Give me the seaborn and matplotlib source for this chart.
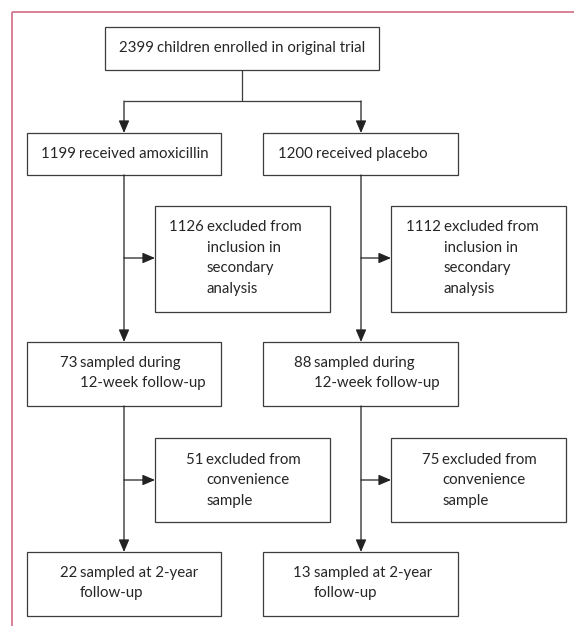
import matplotlib
matplotlib.use("Agg")
import matplotlib.pyplot as plt
import seaborn as sns
from matplotlib.patches import Rectangle

sns.set_theme(style="white")
plt.rcParams['font.family'] = ['Lato', 'DejaVu Sans']

# flowchart content
counts = [2399, 1199, 1200, 1126, 1112, 73, 88, 51, 75, 22, 13]
phrases = [
    ["children enrolled in original trial"],
    ["received amoxicillin"],
    ["received placebo"],
    ["excluded from", "inclusion in", "secondary", "analysis"],
    ["excluded from", "inclusion in", "secondary", "analysis"],
    ["sampled during", "12-week follow-up"],
    ["sampled during", "12-week follow-up"],
    ["excluded from", "convenience", "sample"],
    ["excluded from", "convenience", "sample"],
    ["sampled at 2-year", "follow-up"],
    ["sampled at 2-year", "follow-up"],
]

# layout in pixels: box (x0, y0, x1, y1), text start x, first line y
boxes = [
    (105, 27, 379, 70, 119, 48),
    (27, 133, 221, 175, 41, 154),
    (263, 133, 458, 175, 278, 154),
    (155, 206, 330, 312, 169, 227),
    (391, 206, 566, 312, 406, 227),
    (27, 342, 221, 406, 60, 363),
    (263, 342, 458, 406, 294, 363),
    (155, 438, 330, 522, 186, 460),
    (391, 438, 566, 522, 422, 460),
    (27, 552, 221, 616, 60, 573),
    (263, 552, 458, 616, 293, 573),
]
line_step = 20.5

W, H = 574, 626
fig = plt.figure(figsize=(W / 100, H / 100), dpi=100)
ax = fig.add_axes([0, 0, 1, 1])
ax.set_xlim(0, W)
ax.set_ylim(H, 0)
ax.axis("off")

pink = "#d4768f"
ax.plot([12, W], [12, 12], color=pink, lw=1.3, solid_capstyle="butt")
ax.plot([12, 12], [12, H], color=pink, lw=1.3, solid_capstyle="butt")

edge = "#3c3c3c"
txt = "#262626"
fs = 10.8

fig.canvas.draw()
renderer = fig.canvas.get_renderer()
inv = ax.transData.inverted()

for n, words, (x0, y0, x1, y1, tx, ty) in zip(counts, phrases, boxes):
    ax.add_patch(Rectangle((x0, y0), x1 - x0, y1 - y0, fill=False,
                           ec=edge, lw=0.9))
    t = ax.text(tx, ty, f"{n} ", fontsize=fs, color=txt, va="center", ha="left")
    bb = t.get_window_extent(renderer)
    xr = inv.transform((bb.x1, bb.y0))[0] - 1
    for i, w in enumerate(words):
        ax.text(xr, ty + i * line_step, w, fontsize=fs, color=txt,
                va="center", ha="left")

lc = "#3c3c3c"
lw = 0.9


def seg(x0, y0, x1, y1):
    ax.plot([x0, x1], [y0, y1], color=lc, lw=lw, solid_capstyle="butt")


def arrow(x0, y0, x1, y1):
    ax.annotate("", xy=(x1, y1), xytext=(x0, y0),
                arrowprops=dict(arrowstyle="-|>,head_length=0.75,head_width=0.32",
                                mutation_scale=10, color="#222222", lw=lw,
                                shrinkA=0, shrinkB=0))


# top split
seg(242, 70, 242, 101)
seg(124, 101, 361, 101)
arrow(124, 101, 124, 133)
arrow(361, 101, 361, 133)

for cx, bx in [(124, 155), (361, 391)]:
    arrow(cx, 175, cx, 342)
    arrow(cx, 258, bx, 258)
    arrow(cx, 406, cx, 552)
    arrow(cx, 480, bx, 480)

fig.savefig("out.png", dpi=100, facecolor="white")
